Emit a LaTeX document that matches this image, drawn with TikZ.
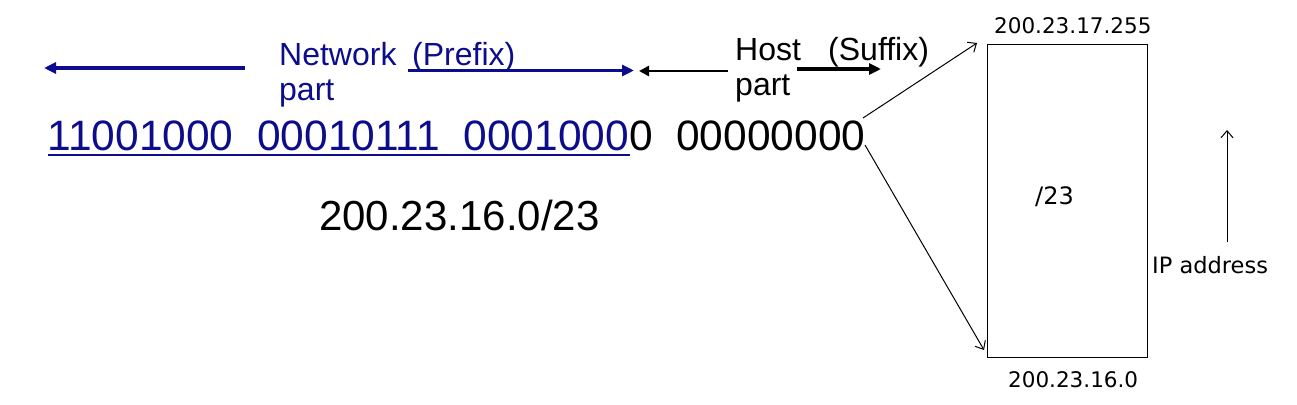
\documentclass[tikz,border=0pt]{standalone}
\usepackage{fontspec}
\setmainfont{Liberation Sans}
\newfontfamily\tahfont{DejaVu Sans}
\usetikzlibrary{arrows.meta}
\definecolor{navy}{RGB}{12,12,140}
\tikzset{
  lbl/.style={inner sep=0pt, anchor=base west, font=\fontsize{32}{36}\selectfont},
  small/.style={inner sep=0pt, anchor=base west, font=\tahfont\fontsize{21.5}{25}\selectfont},
  bigarrow/.style={line width=3.5pt, -{Triangle[length=12pt,width=11pt]}},
  thinarrow/.style={line width=1pt, -{Straight Barb[length=7pt,width=12pt]}},
}
\begin{document}
\begin{tikzpicture}[x=1pt,y=-1pt]
\useasboundingbox (0,0) rectangle (1297,404);
% binary line
\node[inner sep=0pt, anchor=base west, font=\fontsize{42.5}{48}\selectfont] (bin) at (47.5,150)
  {\textcolor{navy}{11001000\ \ 00010111\ \ 0001000}0\ \ 00000000};
\coordinate (ulA) at (48,155);
\coordinate (ulB) at (630,155);
\draw[navy, line width=2pt] (ulA) -- (ulB);
% cidr
\node[inner sep=0pt, anchor=base west, font=\fontsize{42}{46}\selectfont] (cidr) at (319,230) {200.23.16.0/23};
% labels
\node[lbl, text=navy] (net) at (279,65) {Network};
\node[lbl, text=navy] (pref) at (412,65) {(Prefix)};
\node[lbl, text=navy] (npart) at (279,100) {part};
\node[lbl] (host) at (735,60) {Host};
\node[lbl] (suff) at (828,60) {(Suffix)};
\node[lbl] (hpart) at (735,95) {part};
% arrows top
\coordinate (nl1) at (245,68);
\coordinate (nl2) at (44,68);
\coordinate (nr1) at (408,70.5);
\coordinate (nr2) at (634,70.5);
\coordinate (hl1) at (728,71);
\coordinate (hl2) at (639,71);
\coordinate (hr1) at (797,69);
\coordinate (hr2) at (881,69);
\draw[navy, bigarrow] (nl1) -- (nl2);
\draw[navy, bigarrow] (nr1) -- (nr2);
\draw[line width=2.5pt, -{Triangle[length=10pt,width=10pt]}] (hl1) -- (hl2);
\draw[bigarrow] (hr1) -- (hr2);
% box
\node[draw, line width=1.2pt, minimum width=160pt, minimum height=313pt, inner sep=0pt, anchor=north west] (box) at (987,44) {};
\node[small] (top) at (994,34) {200.23.17.255};
\node[small] (bot) at (1008,387) {200.23.16.0};
\node[small, font=\tahfont\fontsize{24}{28}\selectfont] (s23) at (1035,204) {/23};
\node[small, font=\tahfont\fontsize{22.5}{26}\selectfont] (ip) at (1152,273) {IP address};
% fan arrows
\coordinate (fa1) at (863,118);
\coordinate (fb1) at (977,43);
\coordinate (fa2) at (865,145);
\coordinate (fb2) at (984,350);
\draw[thinarrow] (fa1) -- (fb1);
\draw[thinarrow] (fa2) -- (fb2);
% ip arrow
\coordinate (ipa) at (1227,242);
\coordinate (ipb) at (1227,130);
\draw[thinarrow] (ipa) -- (ipb);
\end{tikzpicture}
\end{document}
